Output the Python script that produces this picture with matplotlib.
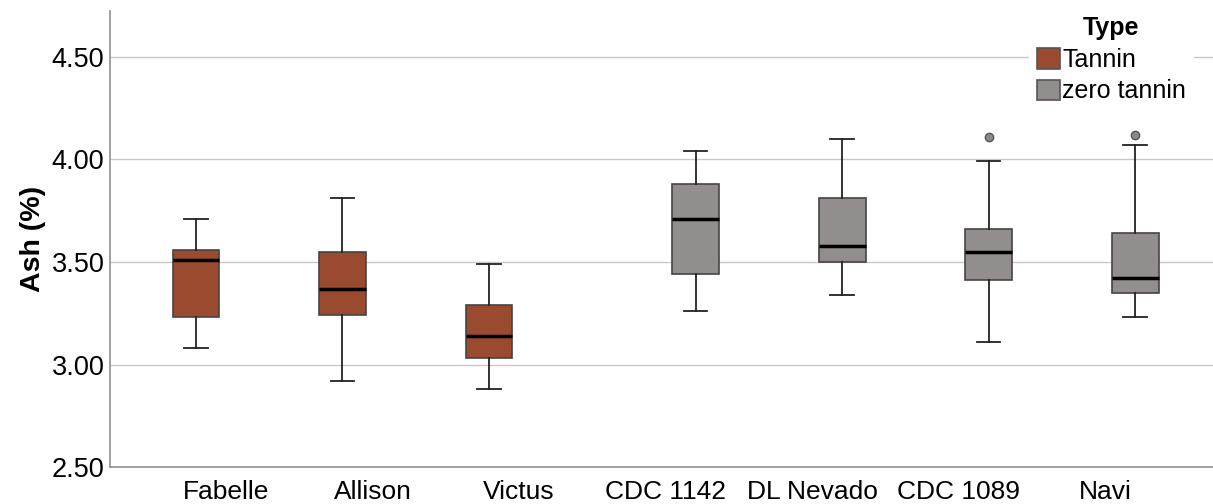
import matplotlib
matplotlib.use("Agg")
import matplotlib.pyplot as plt
from matplotlib.patches import Patch

plt.rcParams["font.family"] = ["Liberation Sans", "DejaVu Sans"]

# Box statistics (Ash %)
varieties = ["Fabelle", "Allison", "Victus", "CDC 1142", "DL Nevado", "CDC 1089", "Navi"]
types = ["Tannin", "Tannin", "Tannin", "zero tannin", "zero tannin", "zero tannin", "zero tannin"]
whislo = [3.08, 2.92, 2.88, 3.26, 3.34, 3.11, 3.23]
q1 = [3.23, 3.24, 3.03, 3.44, 3.50, 3.41, 3.35]
med = [3.51, 3.37, 3.14, 3.71, 3.58, 3.55, 3.42]
q3 = [3.56, 3.55, 3.29, 3.88, 3.81, 3.66, 3.64]
whishi = [3.71, 3.81, 3.49, 4.04, 4.10, 3.99, 4.07]
outliers = [[], [], [], [], [], [4.11], [4.12]]

type_names = ["Tannin", "zero tannin"]
type_colors = {"Tannin": "#994a2f", "zero tannin": "#928e8d"}
type_offset = {"Tannin": -0.205, "zero tannin": 0.205}

fig = plt.figure(figsize=(12.13, 5.04), dpi=100)
ax = fig.add_axes([110 / 1213, 36.7 / 504, 1103 / 1213, 456.3 / 504])

# one box per variety, shifted to its cluster slot
for i, name in enumerate(varieties):
    t = types[i]
    stats = [{
        "whislo": whislo[i], "q1": q1[i], "med": med[i], "q3": q3[i],
        "whishi": whishi[i], "fliers": outliers[i], "label": name,
    }]
    ax.bxp(
        stats,
        positions=[i + type_offset[t]],
        widths=0.32,
        capwidths=0.16,
        patch_artist=True,
        manage_ticks=False,
        boxprops=dict(facecolor=type_colors[t], edgecolor="#444444", linewidth=1.2),
        medianprops=dict(color="black", linewidth=2.5),
        whiskerprops=dict(color="#222222", linewidth=1.3),
        capprops=dict(color="#222222", linewidth=1.3),
        flierprops=dict(marker="o", markersize=6, markerfacecolor="#8a8a8a",
                        markeredgecolor="#555555", markeredgewidth=1),
        zorder=3,
    )

ax.set_xlim(-0.792, 6.737)
ax.set_ylim(2.5, 4.722)
ax.set_xticks(range(len(varieties)))
ax.set_xticklabels(varieties, fontsize=19)
ax.set_yticks([2.5, 3.0, 3.5, 4.0, 4.5])
ax.set_yticklabels(["2.50", "3.00", "3.50", "4.00", "4.50"], fontsize=19.5)
ax.tick_params(axis="both", length=0)
ax.tick_params(axis="x", pad=9)
ax.tick_params(axis="y", pad=4)

ax.set_ylabel("Ash (%)", fontsize=20.5, fontweight="bold", labelpad=4)

# Grid and spines
ax.yaxis.grid(True, color="#c8c8c8", linewidth=1)
ax.set_axisbelow(True)
for side in ["top", "right"]:
    ax.spines[side].set_visible(False)
ax.spines["left"].set_color("#909090")
ax.spines["bottom"].set_color("#909090")
ax.spines["left"].set_linewidth(1.2)
ax.spines["bottom"].set_linewidth(1.2)

# Legend
handles = [Patch(facecolor=type_colors[n], edgecolor="#555555", linewidth=1.2, label=n)
           for n in type_names]
leg = ax.legend(
    handles=handles,
    title="Type",
    title_fontproperties={"weight": "bold", "size": 18},
    fontsize=18,
    loc="upper left",
    bbox_to_anchor=(1029 / 1213, 1 - 9 / 504),
    bbox_transform=fig.transFigure,
    borderaxespad=0,
    frameon=True,
    fancybox=False,
    edgecolor="none",
    facecolor="white",
    framealpha=1,
    handlelength=0.92,
    handleheight=0.88,
    handletextpad=0.12,
    labelspacing=0.3,
    borderpad=0.3,
)

plt.savefig("out.png", dpi=100)
